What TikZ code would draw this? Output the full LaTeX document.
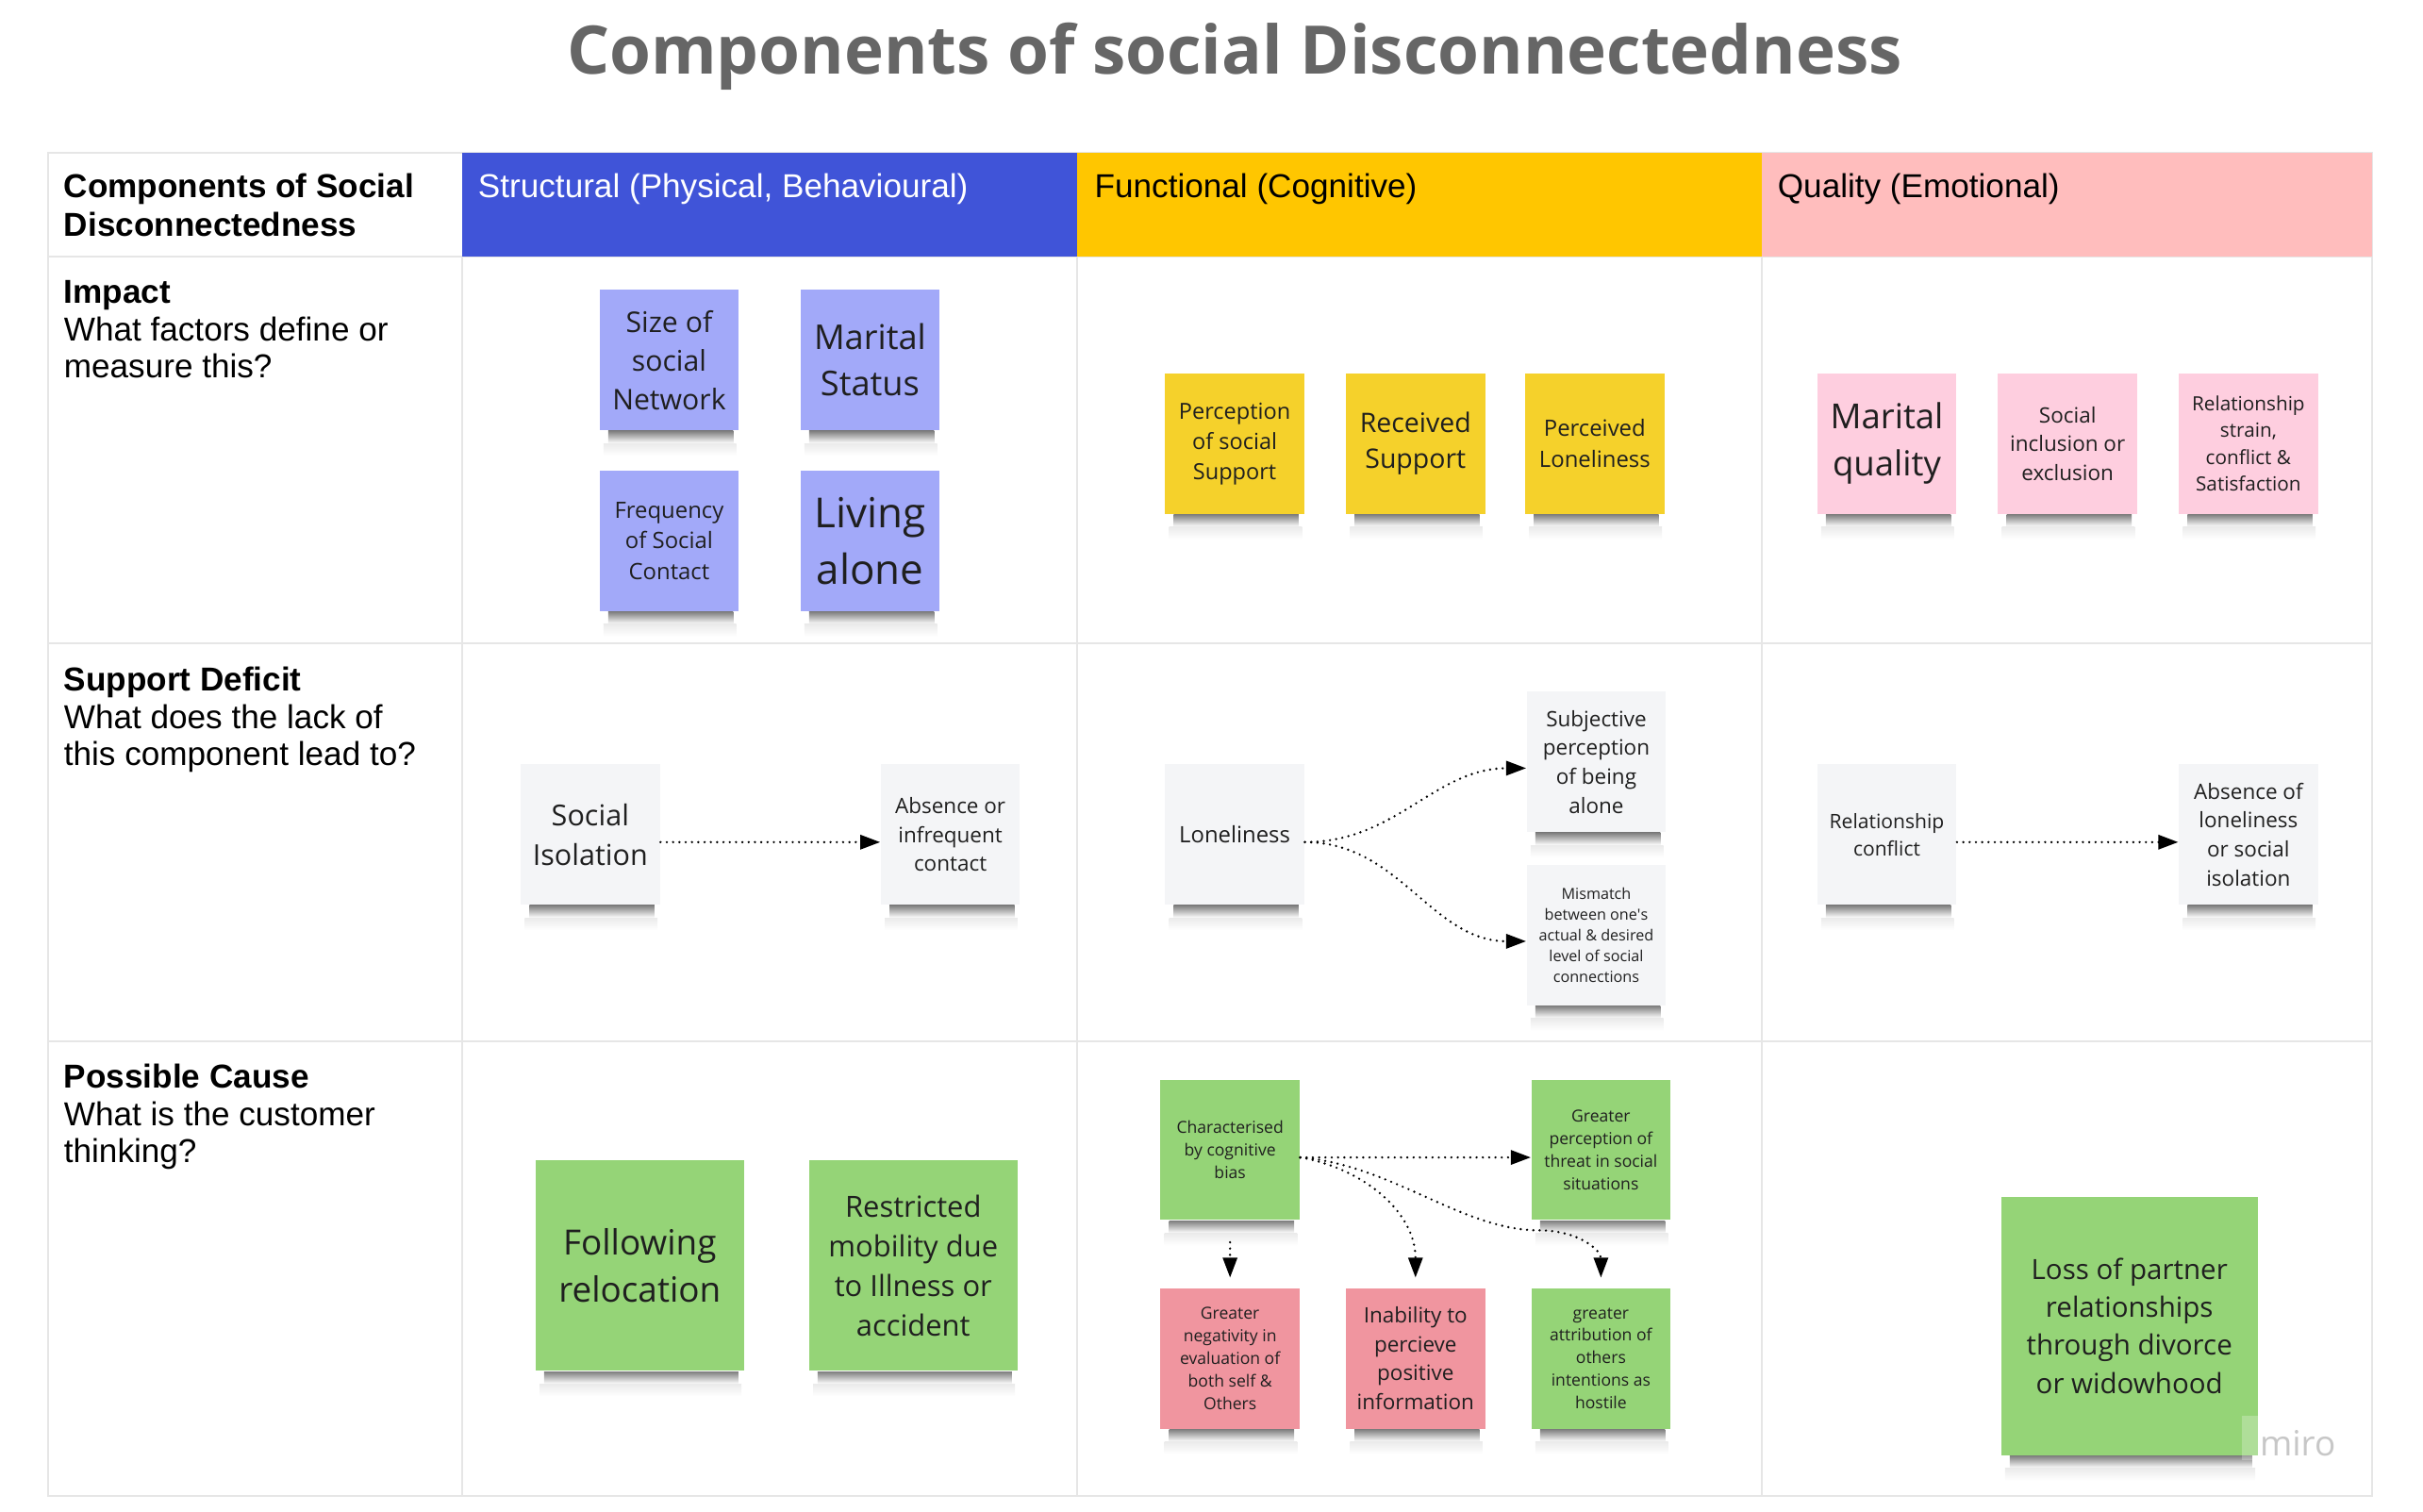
\documentclass[tikz,border=0pt]{standalone}
\usepackage{fontspec}
\setmainfont{Liberation Sans}
\newfontfamily\stickyfont{Open Sans}
\usetikzlibrary{arrows.meta,calc}
\pgfdeclarelayer{background}
\pgfsetlayers{background,main}

\definecolor{structblue}{HTML}{4054D8}
\definecolor{functyellow}{HTML}{FFC600}
\definecolor{qualpink}{HTML}{FFBDBD}
\definecolor{noteblue}{HTML}{A2A9F9}
\definecolor{noteyellow}{HTML}{F5D12B}
\definecolor{notepink}{HTML}{FECEDF}
\definecolor{notegrey}{HTML}{F4F5F7}
\definecolor{notegreen}{HTML}{95D477}
\definecolor{notered}{HTML}{F0959F}
\definecolor{tablegrey}{HTML}{E6E6E6}
\definecolor{titlegrey}{HTML}{666666}

\newcommand{\fsz}[1]{\stickyfont\fontsize{#1}{1.36\dimexpr#1pt\relax}\selectfont}

\begin{document}
\begin{tikzpicture}[
    x=0.016384cm, y=0.016384cm,
    sticky/.style={inner sep=0pt, minimum width=1.475cm, minimum height=1.49cm, align=center, text=black!88},
    bigsticky/.style={sticky, minimum width=2.21cm, minimum height=2.23cm},
    hugesticky/.style={sticky, minimum width=2.72cm, minimum height=2.74cm},
    rowlabel/.style={anchor=north west, inner sep=0pt, align=left, font=\fontsize{10}{11.3}\selectfont},
    colhead/.style={anchor=north west, inner sep=0pt, font=\fontsize{10}{11.3}\selectfont},
    tableline/.style={draw=tablegrey, line width=0.6pt},
    dotarrow/.style={dash pattern=on 0pt off 1.9pt, line cap=round, line width=0.75pt, -{Triangle[length=6pt,width=4.3pt]}}
    ]
    \useasboundingbox (0,0) rectangle (1568,-978);

    \node[font=\stickyfont\bfseries\fontsize{20.2}{24}\selectfont, text=titlegrey, anchor=base] (title) at (799,-48) {Components of social Disconnectedness};

    \draw[tableline] (31,-99) rectangle (1535,-968);
    \foreach \yy in {166,416,674} \draw[tableline] (31,-\yy) -- (1535,-\yy);
    \foreach \xx in {299,697,1140} \draw[tableline] (\xx,-166) -- (\xx,-968);
    \fill[structblue] (299,-99) rectangle (697,-166);
    \fill[functyellow] (697,-99) rectangle (1140,-166);
    \fill[qualpink] (1140,-99) rectangle (1535,-166);

    \node[rowlabel, font=\bfseries\fontsize{10}{11.65}\selectfont] (comphead) at (41,-112) {Components of Social\\Disconnectedness};
    \node[colhead, text=white] (structhead) at (309,-112) {Structural (Physical, Behavioural)};
    \node[colhead] (functhead) at (708,-112) {Functional (Cognitive)};
    \node[colhead] (qualhead) at (1150,-112) {Quality (Emotional)};

    \node[rowlabel] (impact) at (41,-181) {\textbf{Impact}\\What factors define or\\measure this?};
    \node[rowlabel] (deficit) at (41,-431) {\textbf{Support Deficit}\\What does the lack of\\this component lead to?};
    \node[rowlabel] (cause) at (41,-688) {\textbf{Possible Cause}\\What is the customer\\thinking?};

    \node[sticky, fill=noteblue, font=\fsz{8.6}] (size) at (433,-233) {Size of\\social\\Network};
    \node[sticky, fill=noteblue, font=\fsz{10.3}] (marital) at (563,-233) {Marital\\Status};
    \node[sticky, fill=noteblue, font=\fsz{6.8}] (freq) at (433,-350) {Frequency\\of Social\\Contact};
    \node[sticky, fill=noteblue, font=\fsz{12.5}] (living) at (563,-350) {Living\\alone};

    \node[sticky, fill=noteyellow, font=\fsz{6.7}] (percsupp) at (799,-287) {Perception\\of social\\Support};
    \node[sticky, fill=noteyellow, font=\fsz{8.1}] (received) at (916,-287) {Received\\Support};
    \node[sticky, fill=noteyellow, font=\fsz{6.8}] (percloneli) at (1032,-287) {Perceived\\Loneliness};

    \node[sticky, fill=notepink, font=\fsz{10.4}] (maritalq) at (1221,-287) {Marital\\quality};
    \node[sticky, fill=notepink, font=\fsz{6.4}] (inclusion) at (1338,-287) {Social\\inclusion or\\exclusion};
    \node[sticky, fill=notepink, font=\fsz{5.9}] (strain) at (1455,-287) {Relationship\\strain,\\conflict \&\\Satisfaction};

    \node[sticky, fill=notegrey, font=\fsz{8.7}] (isolation) at (382,-540) {Social\\Isolation};
    \node[sticky, fill=notegrey, font=\fsz{6.4}] (absence) at (615,-540) {Absence or\\infrequent\\contact};
    \node[sticky, fill=notegrey, font=\fsz{6.8}] (loneliness) at (799,-540) {Loneliness};
    \node[sticky, fill=notegrey, font=\fsz{6.4}] (subjective) at (1033,-493) {Subjective\\perception\\of being\\alone};
    \node[sticky, fill=notegrey, font=\fsz{4.6}] (mismatch) at (1033,-605) {Mismatch\\between one\textquotesingle s\\actual \& desired\\level of social\\connections};
    \node[sticky, fill=notegrey, font=\fsz{6.0}] (conflict) at (1221,-540) {Relationship\\conflict};
    \node[sticky, fill=notegrey, font=\fsz{6.4}] (noloneli) at (1455,-540) {Absence of\\loneliness\\or social\\isolation};

    \node[bigsticky, fill=notegreen, font=\fsz{10.5}] (relocation) at (414,-819) {Following\\relocation};
    \node[bigsticky, fill=notegreen, font=\fsz{8.8}] (mobility) at (591,-819) {Restricted\\mobility due\\to Illness or\\accident};
    \node[sticky, fill=notegreen, font=\fsz{5.0}] (bias) at (796,-744) {Characterised\\by cognitive\\bias};
    \node[sticky, fill=notegreen, font=\fsz{5.0}] (threat) at (1036,-744) {Greater\\perception of\\threat in social\\situations};
    \node[sticky, fill=notered, font=\fsz{5.0}] (negativity) at (796,-879) {Greater\\negativity in\\evaluation of\\both self \&\\Others};
    \node[sticky, fill=notered, font=\fsz{6.4}] (inability) at (916,-879) {Inability to\\percieve\\positive\\information};
    \node[sticky, fill=notegreen, font=\fsz{5.0}] (hostile) at (1036,-879) {greater\\attribution of\\others\\intentions as\\hostile};
    \node[hugesticky, fill=notegreen, font=\fsz{8.4}] (partner) at (1378,-858) {Loss of partner\\relationships\\through divorce\\or widowhood};

    \begin{pgfonlayer}{background}
    \foreach \n in {size,marital,freq,living,percsupp,received,percloneli,maritalq,inclusion,strain,isolation,absence,loneliness,subjective,mismatch,conflict,noloneli,relocation,mobility,bias,threat,negativity,inability,hostile,partner} {
        \shade[top color=black!50, bottom color=white] ($(\n.south west)+(6,0)$) rectangle ($(\n.south east)+(-4,-8)$);
        \shade[top color=black!8, bottom color=white] ($(\n.south west)+(3,-8)$) rectangle ($(\n.south east)+(-2,-16)$);
    }
    \end{pgfonlayer}

    \draw[dotarrow] ([yshift=-2.3pt]isolation.east) -- ([yshift=-2.3pt]absence.west);
    \draw[dotarrow] ([yshift=-2.3pt]loneliness.east) to[out=0,in=180] ([yshift=-1.9pt]subjective.west);
    \draw[dotarrow] ([yshift=-2.3pt]loneliness.east) to[out=0,in=180] ([yshift=-1.9pt]mismatch.west);
    \draw[dotarrow] ([yshift=-2.3pt]conflict.east) -- ([yshift=-2.3pt]noloneli.west);

    \draw[dotarrow] ([yshift=-2.3pt]bias.east) -- ([yshift=-2.3pt]threat.west);
    \draw[dotarrow] ([yshift=-6.5pt]bias.south) -- ([yshift=3pt]negativity.north);
    \draw[dotarrow] ([yshift=-2.3pt]bias.east) to[out=-10,in=90] ([yshift=3pt]inability.north);
    \draw[dotarrow] ([yshift=-2.3pt]bias.east) .. controls +(60,-5) and +(-50,0) .. ($(hostile.north)+(-40,37)$) .. controls +(25,0) and +(0,18) .. ([yshift=3pt]hostile.north);

    \fill[white, opacity=0.25] (1451,-916) rectangle (1515,-945);
    \node[font=\stickyfont\fontsize{10.5}{12}\selectfont, text=black!22, anchor=base west, inner sep=0pt] (miro) at (1462,-942) {miro};
\end{tikzpicture}
\end{document}
